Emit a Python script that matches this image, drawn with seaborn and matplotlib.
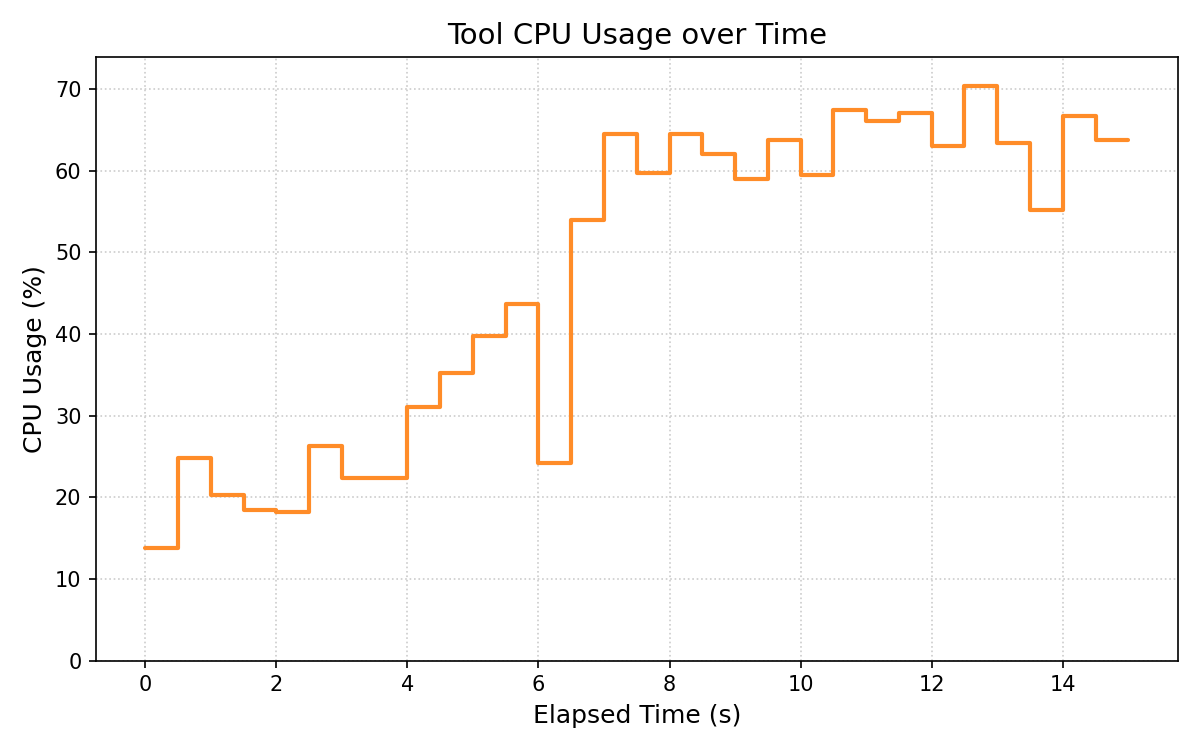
import matplotlib
matplotlib.use("Agg")
import matplotlib.pyplot as plt
import seaborn as sns
import pandas as pd

elapsed_s = [0.0, 0.5, 1.0, 1.5, 2.0, 2.5, 3.0, 3.5, 4.0, 4.5, 5.0, 5.5, 6.0, 6.5,
             7.0, 7.5, 8.0, 8.5, 9.0, 9.5, 10.0, 10.5, 11.0, 11.5, 12.0, 12.5,
             13.0, 13.5, 14.0, 14.5, 15.0]
cpu_pct = [13.8, 24.8, 20.3, 18.4, 18.2, 26.3, 22.4, 22.4, 31.0, 35.2, 39.7, 43.7,
           24.2, 54.0, 64.5, 59.7, 64.5, 62.1, 59.0, 63.8, 59.5, 67.4, 66.1, 67.1,
           63.0, 70.4, 63.4, 55.2, 66.7, 63.8, 63.8]

df = pd.DataFrame({"t": elapsed_s, "cpu": cpu_pct})

sns.set_style("ticks", {"axes.edgecolor": "black", "text.color": "black",
                        "axes.labelcolor": "black", "xtick.color": "black",
                        "ytick.color": "black"})
plt.rcParams['font.family'] = ['DejaVu Sans']

fig, ax = plt.subplots(figsize=(8, 5), dpi=150)
sns.lineplot(data=df, x="t", y="cpu", ax=ax, drawstyle="steps-post",
             color="#ff8c28", linewidth=2)
ax.set_ylim(0, max(cpu_pct) * 1.05)
ax.grid(True, linestyle=":", color="#cccccc", linewidth=0.8)
ax.set_title("Tool CPU Usage over Time", fontsize=14)
ax.set_xlabel("Elapsed Time (s)", fontsize=12)
ax.set_ylabel("CPU Usage (%)", fontsize=12)
ax.tick_params(labelsize=10, length=3.5, width=0.8)
for s in ax.spines.values():
    s.set_visible(True)
    s.set_linewidth(0.8)
fig.tight_layout()
fig.savefig("out.png", dpi=150)
